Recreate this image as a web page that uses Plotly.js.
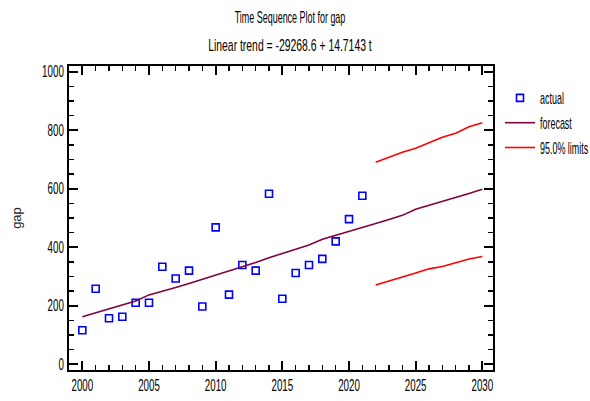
<!DOCTYPE html>
<html>
<head>
<meta charset="utf-8">
<script src="https://cdn.plot.ly/plotly-3.0.1.min.js"></script>
<style>html,body{margin:0;padding:0;background:#fff;}#chart{width:590px;height:401px;}</style>
</head>
<body>
<div id="chart"></div>
<script>
// ---- data ----
var actualYears = [2000,2001,2002,2003,2004,2005,2006,2007,2008,2009,2010,2011,2012,2013,2014,2015,2016,2017,2018,2019,2020,2021];
var actualValues = [116,258,157,162,210,210,333,293,320,197,468,238,339,320,583,224,312,339,360,420,496,576];
var forecastYears = [2000,2001,2002,2003,2004,2005,2006,2007,2008,2009,2010,2011,2012,2013,2014,2015,2016,2017,2018,2019,2020,2021,2022,2023,2024,2025,2026,2027,2028,2029,2030];
var forecastValues = [162,175,189,203,216,237,249,262,276,290,304,318,333,348,364,379,393,408,427,440,453,467,481,495,509,530,543,556,570,584,598];
var limitYears = [2022,2023,2024,2025,2026,2027,2028,2029,2030];
var upperLimits = [691,708,725,739,758,776,790,812,826];
var lowerLimits = [271,284,298,312,326,334,347,360,368];
var xTickVals = [2000,2005,2010,2015,2020,2025,2030];
var yTickVals = [0,200,400,600,800,1000];

var font = '"Liberation Sans", Arial, sans-serif';

var traces = [
  {x: actualYears, y: actualValues, type: 'scatter', mode: 'markers', name: 'actual',
   legendgroup: 'a',
   marker: {symbol: 'square-open', size: 7, color: '#0000ff', line: {width: 1.6, color: '#0000ff'}}},
  {x: forecastYears, y: forecastValues, type: 'scatter', mode: 'lines', name: 'forecast',
   legendgroup: 'f',
   line: {color: '#800040', width: 1.6}},
  {x: limitYears, y: upperLimits, type: 'scatter', mode: 'lines', name: '95.0% limits',
   legendgroup: 'l',
   line: {color: '#ff0000', width: 1.6}},
  {x: limitYears, y: lowerLimits, type: 'scatter', mode: 'lines', name: '95.0% limits',
   legendgroup: 'l', showlegend: false,
   line: {color: '#ff0000', width: 1.6}}
];

var axisCommon = {
  showline: true, linecolor: '#000', linewidth: 2, mirror: 'allticks',
  ticks: 'inside', ticklen: 9, tickwidth: 2, tickcolor: '#000',
  showgrid: false, zeroline: false, automargin: false,
  tickfont: {family: font, size: 16, color: '#000'}
};

var layout = {
  width: 590, height: 401,
  margin: {l: 69, r: 97, t: 66, b: 31, pad: 0},
  paper_bgcolor: '#fff', plot_bgcolor: '#fff',
  title: {text: 'Time Sequence Plot for gap', x: 290/590, xanchor: 'center', xref: 'container',
          y: 1 - 17/401, yanchor: 'middle', yref: 'container', automargin: false,
          font: {family: font, size: 16, color: '#000'}},
  annotations: [
    {text: 'Linear trend = -29268.6 + 14.7143 t', xref: 'paper', yref: 'paper',
     x: (290-69)/424, y: (370-45)/304, xanchor: 'center', yanchor: 'middle', showarrow: false,
     font: {family: font, size: 16, color: '#000'}}
  ],
  xaxis: Object.assign({}, axisCommon, {
    range: [1999, 2030.8], tickvals: xTickVals, ticktext: xTickVals.map(String),
    minor: {dtick: 1, tick0: 2000, ticks: 'inside', ticklen: 5, tickwidth: 1.5, tickcolor: '#000'}
  }),
  yaxis: Object.assign({}, axisCommon, {
    range: [-20, 1020], tickvals: yTickVals, ticktext: yTickVals.map(String),
    minor: {dtick: 50, tick0: 0, ticks: 'inside', ticklen: 5, tickwidth: 1.5, tickcolor: '#000'},
    title: {text: 'gap', standoff: 4, font: {family: font, size: 13, color: '#222'}}
  }),
  showlegend: true,
  legend: {xref: 'container', yref: 'container', x: 500/590, xanchor: 'left', y: 1 - 81/401, yanchor: 'top',
           bgcolor: 'rgba(0,0,0,0)', borderwidth: 0, tracegroupgap: 1, traceorder: 'grouped',
           itemwidth: 30,
           font: {family: font, size: 16, color: '#000'}}
};

function condense(sel, s) {
  document.querySelectorAll(sel).forEach(function (t) {
    var bb = t.getBBox();
    var anchor = t.getAttribute('text-anchor') || 'start';
    var ax = anchor === 'middle' ? bb.x + bb.width / 2 : (anchor === 'end' ? bb.x + bb.width : bb.x);
    var tr = t.getAttribute('transform') || '';
    t.setAttribute('transform', tr + ' translate(' + ax + ',0) scale(' + s + ',1) translate(' + (-ax) + ',0)');
  });
}

Plotly.newPlot('chart', traces, layout, {displayModeBar: false, staticPlot: true}).then(function () {
  condense('.xtick text', 0.61);
  condense('.ytick text', 0.61);
  condense('.gtitle', 0.56);
  condense('.annotation-text', 0.65);
  condense('.legendtext', 0.56);
});
</script>
</body>
</html>
